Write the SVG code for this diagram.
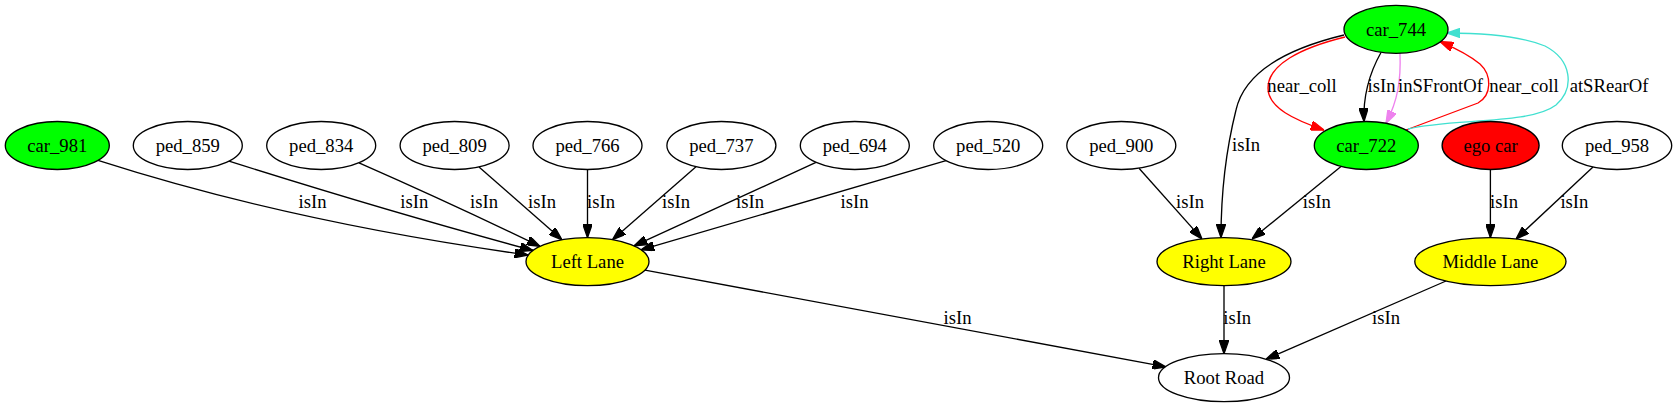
<svg xmlns="http://www.w3.org/2000/svg" width="1677" height="407" viewBox="0 0 1677 407">
<style>
.n{stroke:#000;stroke-width:1.33}
.w{fill:#fff}.g{fill:#00ff00}.y{fill:#ffff00}.r{fill:#ff0000}
text{font-family:"Liberation Serif","Times New Roman",serif;font-size:18.67px;text-anchor:middle;fill:#000}
.e{fill:none;stroke:#000;stroke-width:1.33}
.er{stroke:#ff0000}.ev{stroke:#ee82ee}.et{stroke:#40e0d0}
</style>
<defs>
<marker id="ab" viewBox="0 0 10 7" markerWidth="13.33" markerHeight="9.33" refX="10" refY="3.5" orient="auto" markerUnits="userSpaceOnUse"><path d="M0,0L10,3.5L0,7z" fill="#000" stroke="#000" stroke-width="1"/></marker>
<marker id="ar" viewBox="0 0 10 7" markerWidth="13.33" markerHeight="9.33" refX="10" refY="3.5" orient="auto" markerUnits="userSpaceOnUse"><path d="M0,0L10,3.5L0,7z" fill="#ff0000" stroke="#ff0000" stroke-width="1"/></marker>
<marker id="av" viewBox="0 0 10 7" markerWidth="13.33" markerHeight="9.33" refX="10" refY="3.5" orient="auto" markerUnits="userSpaceOnUse"><path d="M0,0L10,3.5L0,7z" fill="#ee82ee" stroke="#ee82ee" stroke-width="1"/></marker>
<marker id="at" viewBox="0 0 10 7" markerWidth="13.33" markerHeight="9.33" refX="10" refY="3.5" orient="auto" markerUnits="userSpaceOnUse"><path d="M0,0L10,3.5L0,7z" fill="#40e0d0" stroke="#40e0d0" stroke-width="1"/></marker>
</defs>
<rect width="1677" height="407" fill="#fff"/>
<g id="connectors">
<path class="e" marker-end="url(#ab)" d="M98,160.4Q290,222 528,255"/>
<path class="e" marker-end="url(#ab)" d="M229,161.2Q390,212 533,250.5"/>
<path class="e" marker-end="url(#ab)" d="M359,162.8Q455,205 540,246.4"/>
<path class="e" marker-end="url(#ab)" d="M479,167L562,239.8"/>
<path class="e" marker-end="url(#ab)" d="M587.5,169.5L587.5,237.6"/>
<path class="e" marker-end="url(#ab)" d="M696,166.7L612.5,239.7"/>
<path class="e" marker-end="url(#ab)" d="M816,162.4L634,245.9"/>
<path class="e" marker-end="url(#ab)" d="M946,160.7L641,249.8"/>
<path class="e" marker-end="url(#ab)" d="M1139,168.2L1202,238.9"/>
<path class="e" marker-end="url(#ab)" d="M1344,35C1290,48 1245,70 1236,110C1226,150 1221,190 1221,237.6"/>
<path class="e" marker-end="url(#ab)" d="M1341,166.5L1252,239"/>
<path class="e" marker-end="url(#ab)" d="M1490.4,169.5L1490.4,237.6"/>
<path class="e" marker-end="url(#ab)" d="M1593,167.1L1516,239"/>
<path class="e" marker-end="url(#ab)" d="M1224,285.6L1224,353.7"/>
<path class="e" marker-end="url(#ab)" d="M1446,281L1266,359.3"/>
<path class="e" marker-end="url(#ab)" d="M645,270.1L1166,366.9"/>
<path class="e er" marker-end="url(#ar)" d="M1345,37C1300,48 1268,65 1268,88C1268,108 1295,120 1324,130"/>
<path class="e" marker-end="url(#ab)" d="M1381,52.5C1370,72 1363,95 1364,121.5"/>
<path class="e ev" marker-end="url(#av)" d="M1400,53C1401,80 1398,100 1386,123.3"/>
<path class="e er" marker-end="url(#ar)" d="M1406,130L1478,103C1492,95 1492,75 1480,64C1468,54 1455,48 1440,41.6"/>
<path class="e et" marker-end="url(#at)" d="M1408,129C1450,118 1530,125 1556,105C1575,88 1572,60 1545,46C1520,36 1480,33 1447,33"/>
<text x="312.5" y="207.5">isIn</text>
<text x="414.3" y="207.5">isIn</text>
<text x="484" y="207.5">isIn</text>
<text x="542" y="207.5">isIn</text>
<text x="601" y="207.5">isIn</text>
<text x="676" y="207.5">isIn</text>
<text x="750" y="207.5">isIn</text>
<text x="854.6" y="207.5">isIn</text>
<text x="1190" y="207.5">isIn</text>
<text x="1246" y="151">isIn</text>
<text x="1316.8" y="207.5">isIn</text>
<text x="1504" y="207.5">isIn</text>
<text x="1574.4" y="207.5">isIn</text>
<text x="1237.2" y="324">isIn</text>
<text x="1386" y="324">isIn</text>
<text x="957.6" y="324">isIn</text>
<text x="1302" y="92">near_coll</text>
<text x="1381.5" y="92">isIn</text>
<text x="1440.5" y="92">inSFrontOf</text>
<text x="1524" y="92">near_coll</text>
<text x="1609" y="92">atSRearOf</text>
</g>
<g id="car_744"><ellipse class="n g" cx="1396" cy="29.3" rx="52" ry="24"/><text x="1396" y="35.8">car_744</text></g>
<g id="car_981"><ellipse class="n g" cx="57.3" cy="145.5" rx="52" ry="24"/><text x="57.3" y="152">car_981</text></g>
<g id="ped_859"><ellipse class="n w" cx="187.8" cy="145.5" rx="54.5" ry="24"/><text x="187.8" y="152">ped_859</text></g>
<g id="ped_834"><ellipse class="n w" cx="321.2" cy="145.5" rx="54.5" ry="24"/><text x="321.2" y="152">ped_834</text></g>
<g id="ped_809"><ellipse class="n w" cx="454.6" cy="145.5" rx="54.5" ry="24"/><text x="454.6" y="152">ped_809</text></g>
<g id="ped_766"><ellipse class="n w" cx="587.5" cy="145.5" rx="54.5" ry="24"/><text x="587.5" y="152">ped_766</text></g>
<g id="ped_737"><ellipse class="n w" cx="721.4" cy="145.5" rx="54.5" ry="24"/><text x="721.4" y="152">ped_737</text></g>
<g id="ped_694"><ellipse class="n w" cx="854.8" cy="145.5" rx="54.5" ry="24"/><text x="854.8" y="152">ped_694</text></g>
<g id="ped_520"><ellipse class="n w" cx="988.2" cy="145.5" rx="54.5" ry="24"/><text x="988.2" y="152">ped_520</text></g>
<g id="ped_900"><ellipse class="n w" cx="1121.3" cy="145.5" rx="54.5" ry="24"/><text x="1121.3" y="152">ped_900</text></g>
<g id="car_722"><ellipse class="n g" cx="1366.3" cy="145.5" rx="52" ry="24"/><text x="1366.3" y="152">car_722</text></g>
<g id="ego_car"><ellipse class="n r" cx="1490.6" cy="145.5" rx="48.5" ry="24"/><text x="1490.6" y="152">ego car</text></g>
<g id="ped_958"><ellipse class="n w" cx="1617" cy="145.5" rx="54.7" ry="24"/><text x="1617" y="152">ped_958</text></g>
<g id="left_lane"><ellipse class="n y" cx="587.5" cy="261.6" rx="61.5" ry="24"/><text x="587.5" y="268">Left Lane</text></g>
<g id="right_lane"><ellipse class="n y" cx="1224" cy="261.6" rx="67" ry="24"/><text x="1224" y="268">Right Lane</text></g>
<g id="middle_lane"><ellipse class="n y" cx="1490.4" cy="261.6" rx="75.6" ry="24"/><text x="1490.4" y="268">Middle Lane</text></g>
<g id="root_road"><ellipse class="n w" cx="1224" cy="377.7" rx="65.5" ry="24"/><text x="1224" y="384">Root Road</text></g>
</svg>
